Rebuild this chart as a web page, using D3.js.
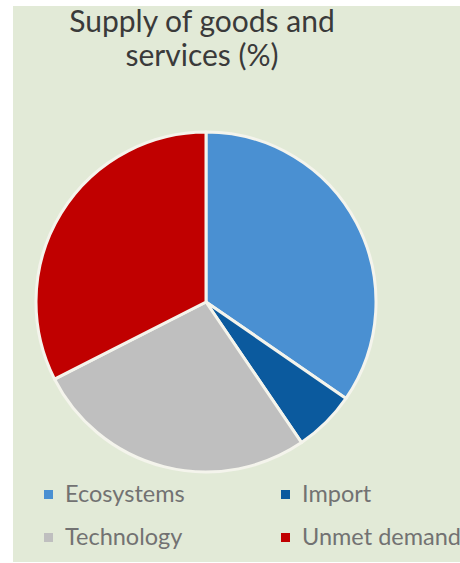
<!DOCTYPE html>
<html>
<head>
<meta charset="utf-8">
<script src="https://cdn.jsdelivr.net/npm/d3@7"></script>
<style>
  html, body { margin: 0; padding: 0; background: #ffffff; }
  svg { display: block; }
</style>
</head>
<body>
<svg id="chart" width="460" height="563"></svg>
<script>
const categories = ["Ecosystems", "Import", "Technology", "Unmet demand"];
const values = [34.6, 5.9, 27.0, 32.5];
const colors = ["#4a90d2", "#0b5a9e", "#bfbfbf", "#c00000"];
const titleLines = ["Supply of goods and", "services (%)"];

const svg = d3.select("#chart");
const W = 460, H = 563;

// background panel
svg.append("rect").attr("x", 13).attr("y", 6).attr("width", W - 13).attr("height", 556)
  .attr("fill", "#e2ead7");

// title (two separate lines)
titleLines.forEach((t, i) => {
  svg.append("text")
    .attr("text-anchor", "middle")
    .attr("font-family", "Lato, 'Open Sans', sans-serif")
    .attr("font-size", 30)
    .attr("fill", "#3a3a3a")
    .attr("x", 202).attr("y", 32 + i * 34)
    .text(t);
});

// pie
const data = categories.map((c, i) => ({ name: c, value: values[i], color: colors[i] }));
const pie = d3.pie().value(d => d.value).sort(null);
const arc = d3.arc().innerRadius(0).outerRadius(170);
const g = svg.append("g").attr("transform", "translate(206,302)");
g.selectAll("path").data(pie(data)).join("path")
  .attr("d", arc)
  .attr("fill", d => d.data.color)
  .attr("stroke", "#f4f4ec")
  .attr("stroke-width", 3)
  .attr("stroke-linejoin", "round");

// legend
const legendPos = [[44, 502], [281, 502], [44, 545], [281, 545]];
const lg = svg.append("g");
data.forEach((d, i) => {
  const [x, y] = legendPos[i];
  lg.append("rect").attr("x", x).attr("y", y - 12).attr("width", 9).attr("height", 9)
    .attr("fill", d.color);
  lg.append("text").attr("x", x + 21).attr("y", y)
    .attr("font-family", "Lato, 'Open Sans', sans-serif")
    .attr("font-size", 23.5)
    .attr("fill", "#727272")
    .text(d.name);
});
</script>
</body>
</html>
